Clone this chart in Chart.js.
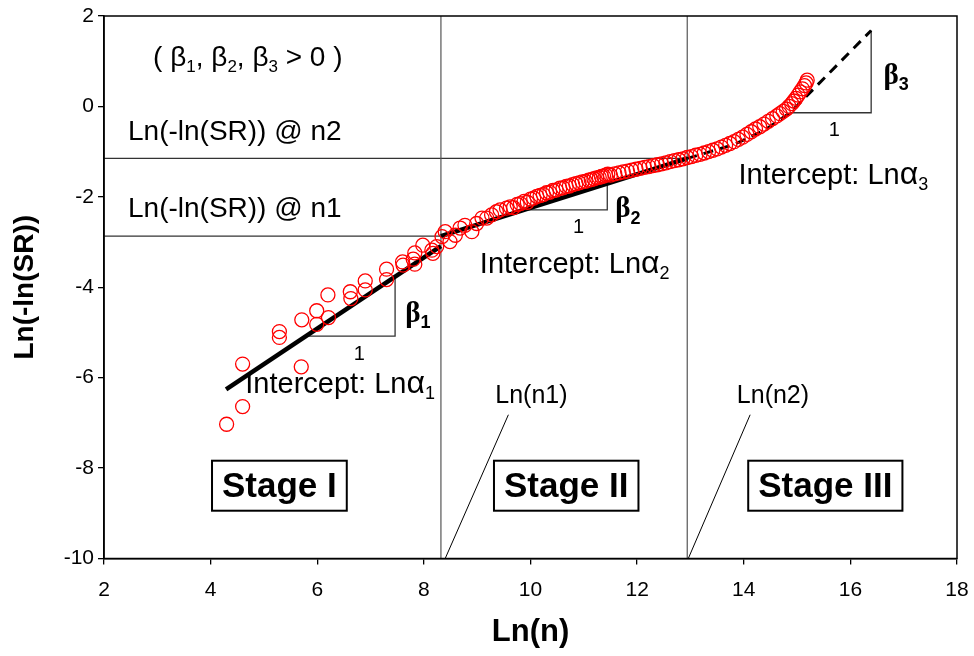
<!DOCTYPE html>
<html>
<head>
<meta charset="utf-8">
<script src="https://cdn.jsdelivr.net/npm/chart.js@4/dist/chart.umd.min.js"></script>
<style>
  html, body { margin: 0; padding: 0; background: #ffffff; }
  #wrap { width: 974px; height: 656px; }
</style>
</head>
<body>
<div id="wrap"><canvas id="chart" width="974" height="656"></canvas></div>
<script>
// Observed points: Ln(n) and Ln(-ln(SR))
const obsLnN = [
  4.30, 4.60, 4.60, 5.70, 5.29, 5.29, 5.71, 5.99, 5.99, 6.21, 6.20, 6.62, 6.63, 6.90, 6.90,
  7.30, 7.30, 7.60, 7.61, 7.80, 7.83, 7.83, 7.98, 8.15, 8.17, 8.24, 8.34, 8.40, 8.49, 8.59,
  8.68, 8.77, 8.90, 8.99, 9.09, 9.18, 9.27, 9.36, 9.43, 9.55,
  9.62, 9.68, 9.75, 9.81, 9.88, 9.94, 10.00, 10.06, 10.12, 10.18, 10.24, 10.30, 10.36, 10.42,
  10.48, 10.55, 10.61, 10.67, 10.73, 10.79, 10.85, 10.91, 10.97, 11.03, 11.09, 11.14, 11.19,
  11.24, 11.29, 11.33, 11.37, 11.41, 11.45, 11.50, 11.58, 11.66, 11.74, 11.82, 11.90, 11.98,
  12.06, 12.14, 12.22, 12.30, 12.38, 12.46, 12.54, 12.62, 12.70, 12.78, 12.86, 12.94,
  13.02, 13.10, 13.18, 13.26, 13.34, 13.42, 13.50, 13.58, 13.66, 13.74, 13.82, 13.90, 13.98,
  14.06, 14.14, 14.22, 14.30, 14.38, 14.46, 14.54, 14.62, 14.68, 14.74, 14.80, 14.85, 14.90,
  14.94, 14.98, 15.02, 15.06, 15.10, 15.14, 15.17, 15.19
];
const obsLnSR = [
  -7.03, -6.64, -5.70, -5.76, -4.98, -5.11, -4.72, -4.52, -4.82, -4.67, -4.17, -4.10, -4.25, -3.86, -4.06,
  -3.60, -3.83, -3.44, -3.51, -3.38, -3.49, -3.24, -3.07, -3.18, -3.25, -3.10, -2.88, -2.77, -2.99, -2.85,
  -2.69, -2.63, -2.77, -2.59, -2.47, -2.47, -2.40, -2.33, -2.29, -2.25,
  -2.22, -2.24, -2.17, -2.15, -2.10, -2.12, -2.05, -2.03, -1.99, -1.97, -1.95, -1.91, -1.90, -1.86,
  -1.85, -1.81, -1.80, -1.77, -1.76, -1.73, -1.71, -1.69, -1.67, -1.66, -1.63, -1.62, -1.60,
  -1.58, -1.57, -1.55, -1.54, -1.52, -1.50, -1.52, -1.49, -1.47, -1.45, -1.43, -1.41, -1.39,
  -1.37, -1.35, -1.33, -1.31, -1.29, -1.27, -1.25, -1.22, -1.20, -1.18, -1.16, -1.13,
  -1.11, -1.08, -1.06, -1.03, -1.00, -0.97, -0.94, -0.90, -0.86, -0.82, -0.78, -0.73, -0.68,
  -0.62, -0.56, -0.50, -0.45, -0.39, -0.33, -0.27, -0.21, -0.16, -0.11, -0.06, 0.00, 0.06,
  0.12, 0.18, 0.25, 0.32, 0.39, 0.46, 0.52, 0.58
];

// Stage boundaries
const lnN1 = 8.32, lnN2 = 12.94;
const lnSRatN1 = -2.87, lnSRatN2 = -1.15;

// Fitted trend lines per stage
const fit1LnN = [4.29, 8.32];
const fit1LnSR = [-6.26, -3.09];
const fit2LnN = [8.32, 12.94];
const fit2LnSR = [-2.87, -1.15];
const fit3LnN = [12.94, 13.8, 14.4, 14.87, 16.39];
const fit3LnSR = [-1.15, -0.85, -0.52, -0.14, 1.68];

// Slope triangles (run of 1, rise of beta)
const tri1LnN = [5.79, 7.46, 7.46];
const tri1LnSR = [-5.08, -5.08, -3.77];
const tri2LnN = [9.94, 11.44, 11.44];
const tri2LnSR = [-2.29, -2.29, -1.62];
const tri3LnN = [14.87, 16.39, 16.39];
const tri3LnSR = [-0.14, -0.14, 1.68];

// Axis ticks
const xTicks = [2, 4, 6, 8, 10, 12, 14, 16, 18];
const yTicks = [-10, -8, -6, -4, -2, 0, 2];

const pts = (xs, ys) => xs.map((x, i) => ({ x: x, y: ys[i] }));

const FONT = "'Liberation Sans', Arial, Helvetica, sans-serif";
const SERIF = "'Liberation Serif', 'Times New Roman', serif";

// Text annotations, placed in data coordinates
const labels = [
  { x: 2.92, y: 1.11, size: 28, parts: [['( '], ['β'], ['1', 's'], [', '], ['β'], ['2', 's'], [', '], ['β'], ['3', 's'], [' > 0 )']] },
  { x: 2.45, y: -0.53, size: 28, parts: [['Ln(-ln(SR)) @ n2']] },
  { x: 2.45, y: -2.22, size: 28, parts: [['Ln(-ln(SR)) @ n1']] },
  { x: 4.65, y: -6.11, size: 29, parts: [['Intercept: Ln'], ['α', 'g'], ['1', 's']] },
  { x: 9.05, y: -3.45, size: 29, parts: [['Intercept: Ln'], ['α', 'g'], ['2', 's']] },
  { x: 13.90, y: -1.48, size: 29, parts: [['Intercept: Ln'], ['α', 'g'], ['3', 's']] },
  { x: 9.34, y: -6.36, size: 25, parts: [['Ln(n1)']] },
  { x: 13.87, y: -6.36, size: 25, parts: [['Ln(n2)']] },
  { x: 6.79, y: -5.46, size: 20, center: true, parts: [['1']] },
  { x: 10.90, y: -2.65, size: 20, center: true, parts: [['1']] },
  { x: 15.70, y: -0.49, size: 20, center: true, parts: [['1']] },
  { x: 7.65, y: -4.54, size: 29, bold: true, serif: true, parts: [['β'], ['1', 's']] },
  { x: 11.59, y: -2.22, size: 29, bold: true, serif: true, parts: [['β'], ['2', 's']] },
  { x: 16.62, y: 0.73, size: 29, bold: true, serif: true, parts: [['β'], ['3', 's']] }
];

const stageBoxes = [
  { text: 'Stage I', x: 5.29, y: -8.39 },
  { text: 'Stage II', x: 10.67, y: -8.39 },
  { text: 'Stage III', x: 15.53, y: -8.39 }
];

const leaders = [
  { x1: 9.585, y1: -6.82, x2: 8.40, y2: -10 },
  { x1: 14.12, y1: -6.82, x2: 12.96, y2: -10 }
];

function drawRich(ctx, item, xs, ys) {
  const size = item.size;
  const weight = item.bold ? 'bold ' : '';
  const fam = FONT;
  const segFont = (p) => {
    if (p[1] === 's') return weight + Math.round(size * 0.62) + 'px ' + fam;
    if (p[1] === 'g') return weight + Math.round(size * 1.12) + 'px ' + fam;
    if (item.serif && p[0] === 'β') return weight + size + 'px ' + SERIF;
    return weight + size + 'px ' + fam;
  };
  let total = 0;
  item.parts.forEach(p => { ctx.font = segFont(p); total += ctx.measureText(p[0]).width; });
  let cx = xs.getPixelForValue(item.x);
  if (item.center) cx -= total / 2;
  const base = ys.getPixelForValue(item.y) + size * 0.36;
  ctx.fillStyle = '#000';
  ctx.textAlign = 'left';
  ctx.textBaseline = 'alphabetic';
  item.parts.forEach(p => {
    ctx.font = segFont(p);
    const dy = p[1] === 's' ? size * 0.22 : 0;
    ctx.fillText(p[0], cx, base + dy);
    cx += ctx.measureText(p[0]).width;
  });
}

const decor = {
  id: 'decor',
  afterDatasetsDraw(chart) {
    const { ctx, chartArea: a, scales: { x, y } } = chart;
    ctx.save();
    // plot frame
    ctx.strokeStyle = '#000';
    ctx.lineWidth = 1.5;
    ctx.strokeRect(a.left, a.top, a.right - a.left, a.bottom - a.top);
    // leader lines
    ctx.lineWidth = 1;
    leaders.forEach(l => {
      ctx.beginPath();
      ctx.moveTo(x.getPixelForValue(l.x1), y.getPixelForValue(l.y1));
      ctx.lineTo(x.getPixelForValue(l.x2), y.getPixelForValue(l.y2));
      ctx.stroke();
    });
    // stage boxes
    ctx.font = 'bold 35px ' + FONT;
    ctx.textAlign = 'center';
    ctx.textBaseline = 'middle';
    stageBoxes.forEach(b => {
      const cx = x.getPixelForValue(b.x), cy = y.getPixelForValue(b.y);
      const w = ctx.measureText(b.text).width + 20, h = 50;
      ctx.fillStyle = '#fff';
      ctx.fillRect(cx - w / 2, cy - h / 2, w, h);
      ctx.lineWidth = 2;
      ctx.strokeStyle = '#000';
      ctx.strokeRect(cx - w / 2, cy - h / 2, w, h);
      ctx.fillStyle = '#000';
      ctx.fillText(b.text, cx, cy + 2);
    });
    labels.forEach(item => drawRich(ctx, item, x, y));
    ctx.restore();
  }
};

const lineSet = (data, color, width, dash, order) => ({
  type: 'line',
  data: data,
  showLine: true,
  borderColor: color,
  borderWidth: width,
  borderDash: dash || [],
  pointRadius: 0,
  fill: false,
  tension: 0,
  order: order
});

new Chart(document.getElementById('chart'), {
  type: 'scatter',
  data: {
    datasets: [
      {
        label: 'Ln(-ln(SR))',
        data: pts(obsLnN, obsLnSR),
        pointStyle: 'circle',
        pointRadius: 7,
        borderColor: '#ff0000',
        backgroundColor: 'rgba(0,0,0,0)',
        borderWidth: 1.3,
        order: 0
      },
      lineSet(pts(fit1LnN, fit1LnSR), '#000', 4.5, null, 1),
      lineSet(pts(fit2LnN, fit2LnSR), '#000', 4.5, null, 1),
      lineSet(pts(fit3LnN, fit3LnSR), '#000', 3, [10, 7], 1),
      lineSet(pts(tri1LnN, tri1LnSR), '#333', 1.3, null, 2),
      lineSet(pts(tri2LnN, tri2LnSR), '#333', 1.3, null, 2),
      lineSet(pts(tri3LnN, tri3LnSR), '#333', 1.3, null, 2),
      lineSet(pts([lnN1, lnN1], [-10, 2]), '#555', 1.2, null, 3),
      lineSet(pts([lnN2, lnN2], [-10, 2]), '#555', 1.2, null, 3),
      lineSet(pts([2, lnN1], [lnSRatN1, lnSRatN1]), '#333', 1.2, null, 3),
      lineSet(pts([2, lnN2], [lnSRatN2, lnSRatN2]), '#333', 1.2, null, 3)
    ]
  },
  options: {
    responsive: false,
    animation: false,
    devicePixelRatio: 1,
    layout: { padding: { top: 16, right: 17, left: 0, bottom: 0 } },
    plugins: { legend: { display: false }, tooltip: { enabled: false } },
    scales: {
      x: {
        type: 'linear',
        min: 2, max: 18,
        afterBuildTicks: s => { s.ticks = xTicks.map(v => ({ value: v })); },
        afterFit: s => { s.height = 97.5; s.paddingLeft = 0; s.paddingRight = 0; },
        grid: { drawOnChartArea: false, drawTicks: true, tickLength: 6, color: '#000', lineWidth: 1.3 },
        border: { display: true, color: '#000', width: 1.5 },
        ticks: { color: '#000', font: { size: 21, family: FONT }, padding: 13, maxRotation: 0 },
        title: { display: true, text: 'Ln(n)', color: '#000', font: { size: 31, weight: 'bold', family: FONT, lineHeight: 1 }, padding: { top: 0, bottom: 8 } }
      },
      y: {
        type: 'linear',
        min: -10, max: 2,
        afterBuildTicks: s => { s.ticks = yTicks.map(v => ({ value: v })); },
        afterFit: s => { s.width = 104; s.paddingTop = 0; s.paddingBottom = 0; },
        grid: { drawOnChartArea: false, drawTicks: true, tickLength: 6, color: '#000', lineWidth: 1.3 },
        border: { display: true, color: '#000', width: 1.5 },
        ticks: { color: '#000', font: { size: 21, family: FONT }, padding: 4 },
        title: { display: true, text: 'Ln(-ln(SR))', color: '#000', font: { size: 28, weight: 'bold', family: FONT, lineHeight: 1 }, padding: { top: 11, bottom: 0 } }
      }
    }
  },
  plugins: [decor]
});
</script>
</body>
</html>
